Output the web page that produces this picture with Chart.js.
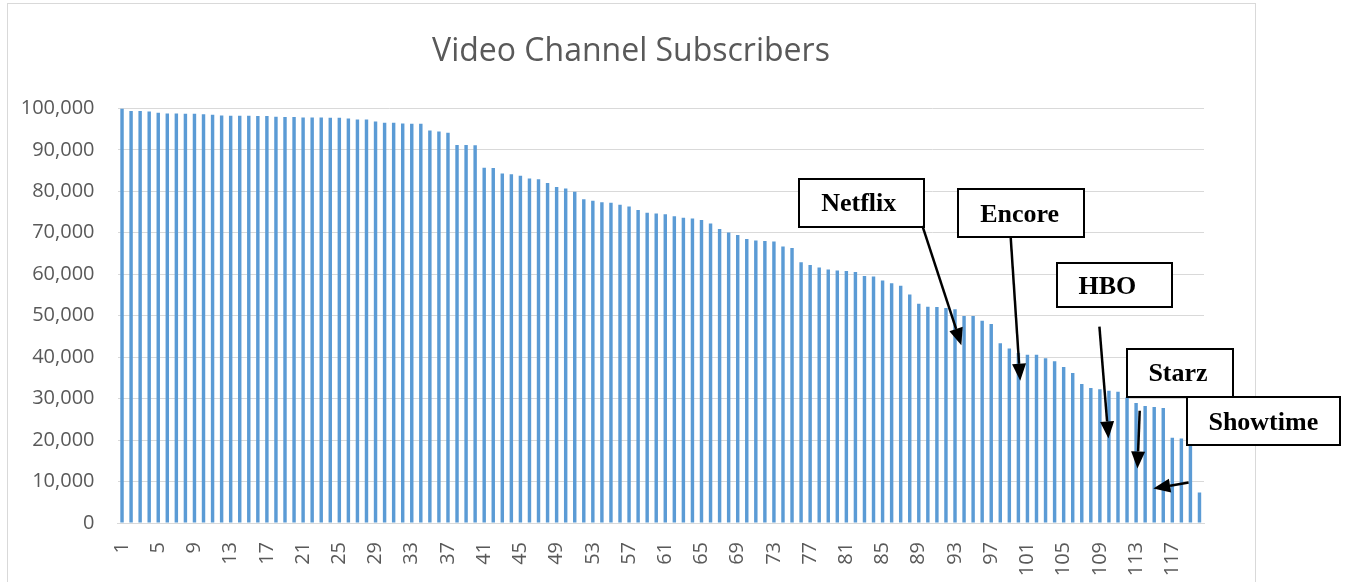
<!DOCTYPE html>
<html>
<head>
<meta charset="utf-8">
<script src="https://cdn.jsdelivr.net/npm/chart.js@4/dist/chart.umd.min.js"></script>
<style>
  html, body { margin: 0; padding: 0; background: #ffffff; }
  canvas { display: block; }
</style>
</head>
<body>
<canvas id="subs-chart" width="1347" height="582"></canvas>
<script>
// Subscribers per channel, sorted high to low
const subscribers = [
    100000, 99400, 99400, 99250, 98950, 98800, 98800, 98700, 98700, 98600,
    98450, 98300, 98250, 98250, 98250, 98150, 98150, 98000, 97950, 97950,
    97820, 97820, 97820, 97740, 97740, 97580, 97340, 97340, 96860, 96530,
    96530, 96370, 96290, 96290, 94680, 94440, 94150, 91150, 91150, 91100,
    85710, 85630, 84280, 84120, 83730, 83090, 82930, 81980, 81030, 80710,
    79920, 78090, 77700, 77380, 77220, 76760, 76360, 75480, 74840, 74680,
    74440, 73960, 73630, 73470, 73070, 72260, 70890, 70090, 69440, 68470,
    68150, 67990, 67910, 66700, 66300, 62920, 62200, 61640, 61170, 60930,
    60770, 60530, 59560, 59480, 58520, 57800, 57230, 55140, 52900, 52170,
    52090, 51850, 51530, 49920, 49920, 48800, 48000, 43350, 42080, 41000,
    40560, 40560, 39760, 39040, 37600, 36160, 33520, 32560, 32240, 31920,
    31680, 30300, 28960, 28240, 28000, 27760, 20560, 20400, 20000, 7360
];

// Channel rank numbers on the x axis
const ranks = Array.from({ length: subscribers.length }, (_, i) => String(i + 1));

// Callout boxes: box centre and arrow ends are given as (bar index, value)
const callouts = [
    { text: 'Netflix',  at: [81.7, 77270],  w: 125, h: 48, dx: -3, from: [88.4, 71660],  to: [92.7, 42900] },
    { text: 'Encore',   at: [99.25, 74730], w: 126, h: 48, dx: -1, from: [98.15, 68880], to: [99.2, 34320] },
    { text: 'HBO',      at: [109.6, 57450], w: 115, h: 44, dx: -7, from: [107.95, 47370], to: [108.95, 20400] },
    { text: 'Starz',    at: [116.85, 36300], w: 106, h: 48, dx: -2, from: [112.4, 27070], to: [112.15, 13150] },
    { text: 'Showtime', at: [126.05, 24545], w: 153, h: 48, dx: 0,  from: [117.8, 9760],  to: [113.9, 8310] }
];

// Light grey frame round the whole chart, like the spreadsheet chart area
const framePlugin = {
    id: 'frame',
    beforeDraw(chart) {
        const ctx = chart.ctx;
        ctx.save();
        ctx.fillStyle = '#ffffff';
        ctx.fillRect(0, 0, chart.width, chart.height);
        ctx.strokeStyle = '#d9d9d9';
        ctx.lineWidth = 1;
        ctx.strokeRect(7.5, 3.5, 1248, 620);
        ctx.restore();
    }
};

function drawArrow(ctx, x1, y1, x2, y2) {
    const ang = Math.atan2(y2 - y1, x2 - x1);
    const headLen = 17, headHalf = 7;
    const bx = x2 - headLen * Math.cos(ang);
    const by = y2 - headLen * Math.sin(ang);
    ctx.beginPath();
    ctx.moveTo(x1, y1);
    ctx.lineTo(bx, by);
    ctx.stroke();
    ctx.beginPath();
    ctx.moveTo(x2, y2);
    ctx.lineTo(bx + headHalf * Math.sin(ang), by - headHalf * Math.cos(ang));
    ctx.lineTo(bx - headHalf * Math.sin(ang), by + headHalf * Math.cos(ang));
    ctx.closePath();
    ctx.fill();
}

// Boxes with labels and arrows pointing at the channels
const calloutPlugin = {
    id: 'callouts',
    afterDraw(chart) {
        const ctx = chart.ctx;
        const xs = chart.scales.x, ys = chart.scales.y;
        ctx.save();
        callouts.forEach(c => {
            const cx = xs.getPixelForValue(c.at[0]);
            const cy = ys.getPixelForValue(c.at[1]);
            const left = Math.round(cx - c.w / 2), top = Math.round(cy - c.h / 2);
            ctx.fillStyle = '#ffffff';
            ctx.fillRect(left, top, c.w, c.h);
            ctx.strokeStyle = '#000000';
            ctx.lineWidth = 2;
            ctx.strokeRect(left, top, c.w, c.h);
            ctx.fillStyle = '#000000';
            ctx.font = 'bold 26px "Liberation Serif", "Times New Roman", serif';
            ctx.textAlign = 'center';
            ctx.textBaseline = 'middle';
            ctx.fillText(c.text, cx + c.dx, cy + 2);
        });
        ctx.lineWidth = 2.5;
        ctx.strokeStyle = '#000000';
        ctx.fillStyle = '#000000';
        callouts.forEach(c => {
            drawArrow(ctx,
                xs.getPixelForValue(c.from[0]), ys.getPixelForValue(c.from[1]),
                xs.getPixelForValue(c.to[0]), ys.getPixelForValue(c.to[1]));
        });
        ctx.restore();
    }
};

const ctx = document.getElementById('subs-chart').getContext('2d');
new Chart(ctx, {
    type: 'bar',
    data: {
        labels: ranks,
        datasets: [{
            label: 'Subscribers',
            data: subscribers,
            backgroundColor: '#5b9bd5',
            borderWidth: 0,
            barPercentage: 0.38,
            categoryPercentage: 1.0
        }]
    },
    options: {
        responsive: false,
        animation: false,
        devicePixelRatio: 1,
        layout: { padding: { left: 7, right: 92, top: 0, bottom: 0 } },
        plugins: {
            legend: { display: false },
            tooltip: { enabled: false },
            title: {
                display: true,
                text: 'Video Channel Subscribers',
                color: '#595959',
                font: { family: '"Open Sans", sans-serif', size: 32, weight: 'normal' },
                padding: { top: 33, bottom: 37 }
            }
        },
        scales: {
            x: {
                grid: { display: false },
                border: { display: true, color: '#d9d9d9', width: 1 },
                ticks: {
                    autoSkip: false,
                    maxRotation: 90,
                    minRotation: 90,
                    padding: 11,
                    color: '#595959',
                    font: { family: '"Open Sans", sans-serif', size: 20 },
                    callback: function (value, index) {
                        return index % 4 === 0 ? this.getLabelForValue(value) : '';
                    }
                },
                afterFit(scale) { scale.height = 59; }
            },
            y: {
                min: 0,
                max: 100000,
                grid: { color: '#d9d9d9', lineWidth: 1, drawTicks: false },
                border: { display: false },
                ticks: {
                    stepSize: 10000,
                    padding: 23,
                    color: '#595959',
                    font: { family: '"Open Sans", sans-serif', size: 20 },
                    callback: v => v.toLocaleString('en-US')
                },
                afterFit(scale) { scale.width = 110.5; }
            },
            yRight: {
                position: 'right',
                grid: { display: false },
                border: { display: false },
                ticks: { display: false },
                afterFit(scale) { scale.width = 51; }
            }
        }
    },
    plugins: [framePlugin, calloutPlugin]
});
</script>
</body>
</html>
